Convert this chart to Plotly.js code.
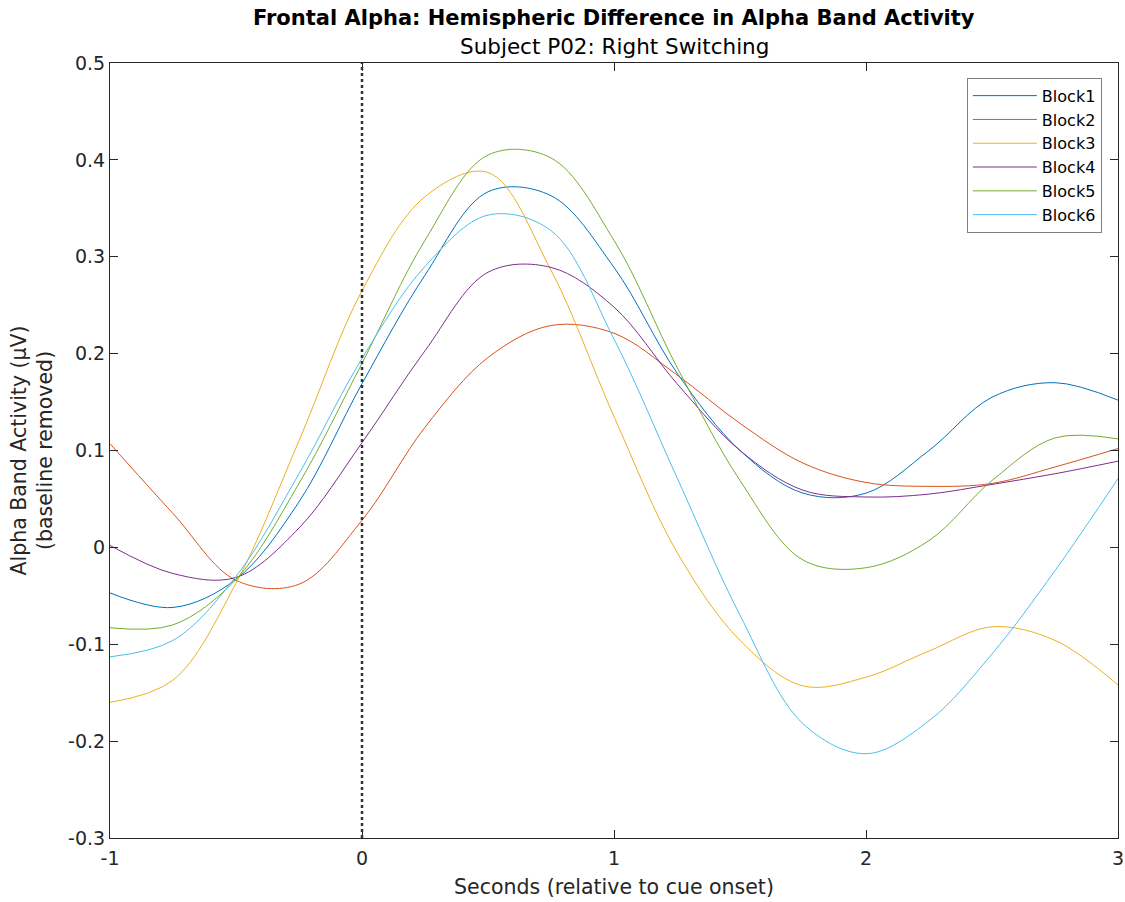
<!DOCTYPE html>
<html>
<head>
<meta charset="utf-8">
<script src="https://cdn.plot.ly/plotly-3.0.1.min.js"></script>
<style>
  html, body { margin: 0; padding: 0; background: #fff; }
  #chart { width: 1125px; height: 902px; }
</style>
</head>
<body>
<div id="chart"></div>
<script>
// Time (seconds relative to cue onset)
const timeSec = [-1, -0.75, -0.5, -0.25, 0, 0.25, 0.5, 0.75, 1, 1.25, 1.5, 1.75, 2, 2.25, 2.5, 2.75, 3];

// Alpha band activity per block (µV, baseline removed)
const block1 = [-0.047, -0.062, -0.033, 0.047, 0.169, 0.281, 0.367, 0.363, 0.289, 0.180, 0.100, 0.056, 0.056, 0.100, 0.155, 0.170, 0.152];
const block2 = [0.107, 0.035, -0.034, -0.038, 0.028, 0.124, 0.196, 0.229, 0.221, 0.178, 0.128, 0.087, 0.067, 0.063, 0.066, 0.083, 0.102];
const block3 = [-0.160, -0.137, -0.037, 0.110, 0.265, 0.362, 0.387, 0.286, 0.135, -0.005, -0.096, -0.143, -0.134, -0.107, -0.082, -0.096, -0.142];
const block4 = [0.002, -0.027, -0.031, 0.020, 0.108, 0.203, 0.284, 0.289, 0.248, 0.169, 0.100, 0.059, 0.052, 0.055, 0.065, 0.076, 0.089];
const block5 = [-0.083, -0.080, -0.033, 0.066, 0.190, 0.317, 0.405, 0.402, 0.317, 0.186, 0.069, -0.013, -0.021, 0.007, 0.069, 0.113, 0.112];
const block6 = [-0.113, -0.096, -0.030, 0.076, 0.195, 0.290, 0.343, 0.327, 0.215, 0.072, -0.070, -0.182, -0.213, -0.179, -0.110, -0.024, 0.071];

const seriesNames = ["Block1", "Block2", "Block3", "Block4", "Block5", "Block6"];
const seriesValues = [block1, block2, block3, block4, block5, block6];
const seriesColors = ["#0072BD", "#D95319", "#EDB120", "#7E2F8E", "#77AC30", "#4DBEEE"];

const cueOnset = 0;

const xTickVals = [-1, 0, 1, 2, 3];
const xTickText = ["-1", "0", "1", "2", "3"];
const yTickVals = [-0.3, -0.2, -0.1, 0, 0.1, 0.2, 0.3, 0.4, 0.5];
const yTickText = ["-0.3", "-0.2", "-0.1", "0", "0.1", "0.2", "0.3", "0.4", "0.5"];

const titleText = "Frontal Alpha: Hemispheric Difference in Alpha Band Activity";
const subtitleText = "Subject P02: Right Switching";
const xTitle = "Seconds (relative to cue onset)";
const yTitle = "Alpha Band Activity (µV)<br>(baseline removed)";

const FONT = "DejaVu Sans, sans-serif";
const AX = "#262626";

const traces = seriesNames.map((name, i) => ({
  x: timeSec,
  y: seriesValues[i],
  name: name,
  type: "scatter",
  mode: "lines",
  line: { color: seriesColors[i], width: 1, shape: "spline", smoothing: 1 }
}));

const layout = {
  width: 1125,
  height: 902,
  paper_bgcolor: "#ffffff",
  plot_bgcolor: "#ffffff",
  margin: { l: 110, r: 7, t: 63, b: 64 },
  font: { family: FONT, color: AX, size: 19 },
  showlegend: true,
  legend: {
    x: 0.984, xanchor: "right",
    y: 0.981, yanchor: "top",
    bgcolor: "#ffffff",
    bordercolor: "#7f7f7f",
    borderwidth: 1,
    font: { family: FONT, size: 16, color: "#000" },
    tracegroupgap: 0,
    itemwidth: 64
  },
  xaxis: {
    range: [-1, 3],
    tickvals: xTickVals,
    ticktext: xTickText,
    ticks: "inside",
    ticklen: 8,
    tickcolor: AX,
    showline: true,
    linecolor: AX,
    linewidth: 1,
    mirror: "ticks",
    showgrid: false,
    zeroline: false,
    ticklabelstandoff: 3,
    tickfont: { family: FONT, size: 19, color: AX },
    title: { text: xTitle, font: { family: FONT, size: 20.5, color: AX }, standoff: 11 }
  },
  yaxis: {
    range: [-0.3, 0.5],
    tickvals: yTickVals,
    ticktext: yTickText,
    ticks: "inside",
    ticklen: 8,
    tickcolor: AX,
    showline: true,
    linecolor: AX,
    linewidth: 1,
    mirror: "ticks",
    showgrid: false,
    zeroline: false,
    tickfont: { family: FONT, size: 19, color: AX },
    title: { text: yTitle, font: { family: FONT, size: 20.5, color: AX }, standoff: 9 }
  },
  shapes: [{
    type: "line",
    xref: "x", yref: "paper",
    x0: cueOnset, x1: cueOnset, y0: 0, y1: 1,
    line: { color: "#333333", width: 2.5, dash: "dot" }
  }],
  annotations: [
    {
      text: "<b>" + titleText + "</b>",
      xref: "paper", yref: "paper",
      x: 0.5, y: 1, yshift: 45,
      xanchor: "center", yanchor: "middle",
      showarrow: false,
      font: { family: FONT, size: 21, color: "#000" }
    },
    {
      text: subtitleText,
      xref: "paper", yref: "paper",
      x: 0.5, y: 1, yshift: 17,
      xanchor: "center", yanchor: "middle",
      showarrow: false,
      font: { family: FONT, size: 21.5, color: "#000" }
    }
  ]
};

Plotly.newPlot("chart", traces, layout, { displayModeBar: false, staticPlot: true });
</script>
</body>
</html>
